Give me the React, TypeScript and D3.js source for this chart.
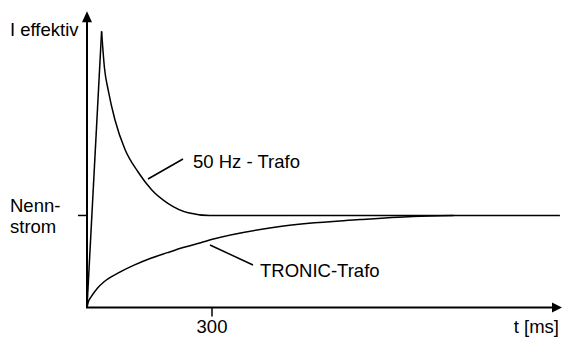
import * as d3 from 'd3';

// time in ms, current relative to Nennstrom (1 = Nennstrom)
const hz50Rise: [number, number][] = [
    [0, 0],
    [35, 3.0],
];
const hz50Decay: [number, number][] = [
    [35, 3.0],
    [42, 2.6],
    [51, 2.36],
    [67, 2.04],
    [91, 1.72],
    [123, 1.47],
    [155, 1.28],
    [195, 1.13],
    [243, 1.03],
    [295, 1.0],
    [1135, 1.0],
];
const tronic: [number, number][] = [
    [0, 0],
    [3, 0.06],
    [9, 0.11],
    [25, 0.21],
    [41, 0.28],
    [73, 0.37],
    [113, 0.46],
    [153, 0.535],
    [193, 0.596],
    [233, 0.654],
    [273, 0.704],
    [301, 0.741],
    [463, 0.88],
    [655, 0.955],
    [782, 0.99],
    [880, 1.0],
];
const xTicks = [300];
const yTicks = [1];

const W = 563;
const H = 338;
const font = '"Liberation Sans", Arial, Helvetica, sans-serif';

export default function App() {
    const x = d3.scaleLinear().domain([0, 1140]).range([87, 562]);
    const y = d3.scaleLinear().domain([0, 3.2]).range([307.5, 13]);

    const lin = d3
        .line<[number, number]>()
        .x((d) => x(d[0]))
        .y((d) => y(d[1]));
    const smooth = d3
        .line<[number, number]>()
        .x((d) => x(d[0]))
        .y((d) => y(d[1]))
        .curve(d3.curveMonotoneX);

    const x0 = x(0);
    const y0 = y(0);
    const xEnd = x(1140);
    const yEnd = y(3.22);

    return (
        <svg width={W} height={H} style={{ position: 'absolute', left: 0, top: 0 }} fontFamily={font}>
            {/* axes */}
            <line x1={x0} y1={y0} x2={x0} y2={yEnd + 8} stroke="#000" strokeWidth={2} />
            <polygon points={`${x0},${yEnd} ${x0 - 5},${yEnd + 11} ${x0 + 5},${yEnd + 11}`} fill="#000" />
            <line x1={x0 - 1} y1={y0} x2={xEnd - 8} y2={y0} stroke="#000" strokeWidth={2} />
            <polygon points={`${xEnd},${y0} ${xEnd - 10},${y0 - 5} ${xEnd - 10},${y0 + 5}`} fill="#000" />

            {xTicks.map((t) => (
                <g key={t}>
                    <line x1={x(t)} x2={x(t)} y1={y0} y2={y0 + 9} stroke="#000" strokeWidth={1.5} />
                    <text x={x(t)} y={333} textAnchor="middle" fontSize={18.5}>
                        {t}
                    </text>
                </g>
            ))}
            {yTicks.map((t) => (
                <line key={t} x1={x0 - 9} x2={x0} y1={y(t)} y2={y(t)} stroke="#000" strokeWidth={1.5} />
            ))}

            {/* curves */}
            <path d={lin(hz50Rise) ?? ''} fill="none" stroke="#000" strokeWidth={1.5} />
            <path d={smooth(hz50Decay) ?? ''} fill="none" stroke="#000" strokeWidth={1.5} />
            <path d={smooth(tronic) ?? ''} fill="none" stroke="#000" strokeWidth={1.5} />

            {/* labels */}
            <text x={10} y={36} fontSize={18.5}>I effektiv</text>
            <text x={10} y={212} fontSize={18.5}>Nenn-</text>
            <text x={10} y={233} fontSize={18.5}>strom</text>
            <text x={559} y={333} textAnchor="end" fontSize={18.5}>t [ms]</text>

            <line x1={148} y1={179} x2={183} y2={159} stroke="#000" strokeWidth={1.5} />
            <text x={193} y={168} fontSize={18.5}>50 Hz - Trafo</text>

            <line x1={210} y1={245} x2={253} y2={265} stroke="#000" strokeWidth={1.5} />
            <text x={260} y={277} fontSize={18.5}>TRONIC-Trafo</text>
        </svg>
    );
}
